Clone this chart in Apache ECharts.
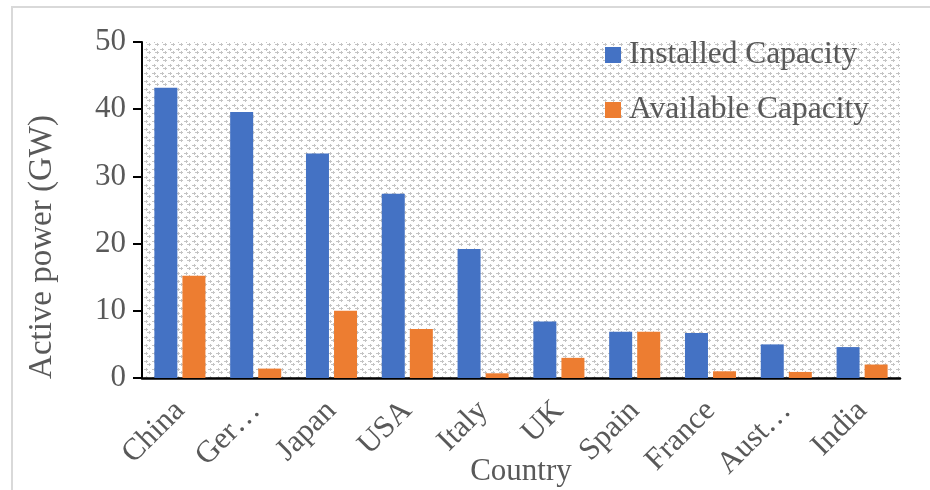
<!DOCTYPE html>
<html>
<head>
<meta charset="utf-8">
<script src="https://cdn.jsdelivr.net/npm/echarts@6/dist/echarts.min.js"></script>
<style>
  html, body { margin: 0; padding: 0; background: #fff; }
  #frame { position: absolute; left: 11px; top: 6px; width: 930px; height: 500px; border: 2px solid #d9d9d9; box-sizing: border-box; }
  #chart { position: absolute; left: 0; top: 0; width: 930px; height: 490px; }
</style>
</head>
<body>
<div id="frame"></div>
<div id="chart"></div>
<script>
// Solar PV capacity by country (GW)
const countries = ['China', 'Germany', 'Japan', 'USA', 'Italy', 'UK', 'Spain', 'France', 'Australia', 'India'];
const countryLabels = ['China', 'Ger…', 'Japan', 'USA', 'Italy', 'UK', 'Spain', 'France', 'Aust…', 'India'];
const installedCapacity = [43.2, 39.6, 33.4, 27.4, 19.2, 8.4, 6.9, 6.7, 5.0, 4.6];
const availableCapacity = [15.2, 1.4, 10.0, 7.3, 0.7, 3.0, 6.9, 1.0, 0.9, 2.0];
const yTicks = [0, 10, 20, 30, 40, 50];

// Small repeating cross-hatch tile for the plot background
function hatchTile() {
  const c = document.createElement('canvas');
  c.width = 8; c.height = 8;
  const g = c.getContext('2d');
  g.fillStyle = '#ffffff';
  g.fillRect(0, 0, 8, 8);
  g.fillStyle = '#c4c4c4';
  // two small crosses stepping down to the right
  g.fillRect(0, 1, 4, 1); g.fillRect(2, 0, 1, 3);
  g.fillRect(3, 4, 4, 1); g.fillRect(5, 3, 1, 3);
  return c;
}

const font = '"Liberation Serif", "Times New Roman", serif';
const textColor = '#595959';

const chart = echarts.init(document.getElementById('chart'), null, { renderer: 'canvas' });
chart.setOption({
  animation: false,
  grid: {
    left: 142, right: 30, top: 42, bottom: 112,
    show: true,
    borderWidth: 0,
    backgroundColor: { image: hatchTile(), repeat: 'repeat' }
  },
  legend: {
    orient: 'vertical',
    left: 600, top: 34,
    itemWidth: 16, itemHeight: 16, itemGap: 23,
    icon: 'rect',
    textStyle: { fontFamily: font, fontSize: 31.5, color: textColor, padding: [0, 0, 0, 3] },
    data: ['Installed Capacity', 'Available Capacity']
  },
  xAxis: {
    type: 'category',
    data: countries,
    axisLine: { lineStyle: { color: '#000', width: 2.5 } },
    axisTick: { show: false },
    axisLabel: {
      rotate: 45,
      margin: 28,
      interval: 0,
      fontFamily: font, fontSize: 31, color: textColor,
      formatter: (v, i) => countryLabels[i]
    }
  },
  yAxis: {
    type: 'value',
    min: yTicks[0], max: yTicks[yTicks.length - 1], interval: 10,
    axisLine: { show: true, lineStyle: { color: '#000', width: 2 } },
    axisTick: { show: true, length: 9, lineStyle: { color: '#000', width: 2 } },
    splitLine: { show: false },
    axisLabel: { margin: 16, fontFamily: font, fontSize: 31, color: textColor }
  },
  series: [
    {
      name: 'Installed Capacity', type: 'bar',
      data: installedCapacity,
      barWidth: 23, barGap: '22%',
      itemStyle: { color: '#4472c4' }
    },
    {
      name: 'Available Capacity', type: 'bar',
      data: availableCapacity,
      barWidth: 23, barGap: '22%',
      itemStyle: { color: '#ed7d31' }
    }
  ],
  graphic: [
    {
      type: 'text', x: 521, y: 472,
      style: { text: 'Country', font: '31px ' + font, fill: textColor, textAlign: 'center', textVerticalAlign: 'middle' }
    },
    {
      type: 'text',
      x: 42, y: 247, rotation: Math.PI / 2,
      style: { text: 'Active power (GW)', font: '33px ' + font, fill: textColor, textAlign: 'center', textVerticalAlign: 'middle' }
    }
  ]
});
</script>
</body>
</html>
